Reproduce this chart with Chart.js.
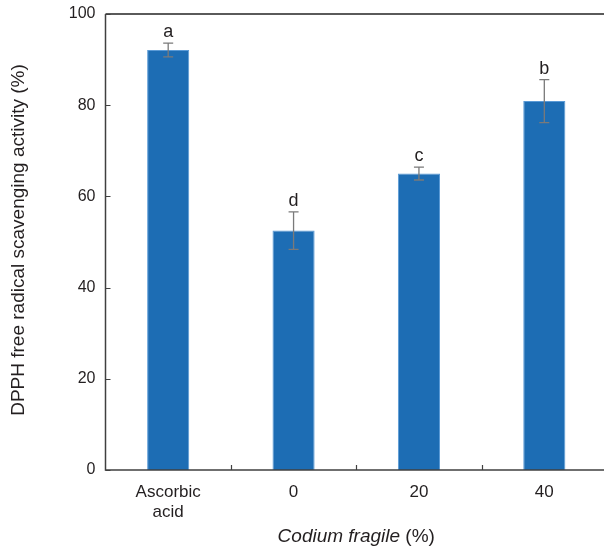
<!DOCTYPE html>
<html>
<head>
<meta charset="utf-8">
<script src="https://cdn.jsdelivr.net/npm/chart.js@4/dist/chart.umd.min.js"></script>
<style>
html,body{margin:0;padding:0;background:#fff;overflow:hidden;width:604px;height:547px;}
#wrap{position:relative;width:607px;height:547px;}
</style>
</head>
<body>
<div id="wrap"><canvas id="c"></canvas></div>
<script>
const categories = [["Ascorbic","acid"], "0", "20", "40"];
const values = [92.1, 52.5, 65.0, 80.9];
const errors = [1.5, 4.1, 1.4, 4.7];
const letters = ["a", "d", "c", "b"];
const yTicks = [0, 20, 40, 60, 80, 100];

const FONT = "'Liberation Sans', Arial, sans-serif";
const TXT = '#231f20';
const AX = '#404040';

const overlay = {
  id: 'overlay',
  afterDatasetsDraw(chart) {
    const ctx = chart.ctx;
    const x = chart.scales.x, y = chart.scales.y;
    const a = chart.chartArea;
    ctx.save();
    // error bars
    ctx.strokeStyle = '#7a7a7a';
    ctx.lineWidth = 1.3;
    values.forEach((v, i) => {
      const px = x.getPixelForValue(i);
      const top = y.getPixelForValue(v + errors[i]);
      const bot = y.getPixelForValue(v - errors[i]);
      ctx.beginPath();
      ctx.moveTo(px, top); ctx.lineTo(px, bot);
      ctx.moveTo(px - 5, top); ctx.lineTo(px + 5, top);
      ctx.moveTo(px - 5, bot); ctx.lineTo(px + 5, bot);
      ctx.stroke();
      ctx.fillStyle = TXT;
      ctx.font = '18px ' + FONT;
      ctx.textAlign = 'center';
      ctx.textBaseline = 'alphabetic';
      ctx.fillText(letters[i], px, top - 6);
    });
    // axes
    ctx.strokeStyle = AX;
    ctx.lineWidth = 1.5;
    ctx.beginPath();
    ctx.moveTo(a.left, a.top); ctx.lineTo(a.left, a.bottom); ctx.lineTo(a.right, a.bottom);
    ctx.stroke();
    ctx.strokeStyle = '#5a5a5a';
    ctx.lineWidth = 2;
    ctx.beginPath();
    ctx.moveTo(a.left, a.top); ctx.lineTo(a.right, a.top);
    ctx.stroke();
    // inward ticks
    ctx.strokeStyle = AX;
    ctx.lineWidth = 1.2;
    ctx.beginPath();
    yTicks.forEach(t => {
      const py = Math.round(y.getPixelForValue(t)) + 0.5;
      ctx.moveTo(a.left, py); ctx.lineTo(a.left + 5, py);
    });
    for (let i = 0; i < categories.length - 1; i++) {
      const px = Math.round((x.getPixelForValue(i) + x.getPixelForValue(i + 1)) / 2) + 0.5;
      ctx.moveTo(px, a.bottom); ctx.lineTo(px, a.bottom - 5);
    }
    ctx.stroke();
    // x title with italic part
    ctx.fillStyle = TXT;
    ctx.textBaseline = 'alphabetic';
    ctx.textAlign = 'left';
    const p1 = 'Codium fragile', p2 = ' (%)';
    ctx.font = 'italic 19px ' + FONT;
    const w1 = ctx.measureText(p1).width;
    ctx.font = '19px ' + FONT;
    const w2 = ctx.measureText(p2).width;
    const cx = (a.left + a.right) / 2;
    const sx = cx - (w1 + w2) / 2;
    const by = 542;
    ctx.font = 'italic 19px ' + FONT;
    ctx.fillText(p1, sx, by);
    ctx.font = '19px ' + FONT;
    ctx.fillText(p2, sx + w1, by);
    // y title
    ctx.save();
    ctx.translate(24, 240);
    ctx.rotate(-Math.PI / 2);
    ctx.textAlign = 'center';
    ctx.textBaseline = 'alphabetic';
    ctx.font = '19px ' + FONT;
    ctx.fillText('DPPH free radical scavenging activity (%)', 0, 0);
    ctx.restore();
    ctx.restore();
  }
};

new Chart(document.getElementById('c'), {
  type: 'bar',
  data: {
    labels: categories,
    datasets: [{
      data: values,
      backgroundColor: '#1d6db4',
      borderColor: '#5a9ad6',
      borderWidth: 1,
      categoryPercentage: 1,
      barPercentage: 0.336
    }]
  },
  options: {
    responsive: true,
    maintainAspectRatio: false,
    animation: false,
    devicePixelRatio: 1,
    layout: { padding: { top: 14, right: 0, left: 0, bottom: 0 } },
    plugins: { legend: { display: false }, tooltip: { enabled: false } },
    scales: {
      x: {
        grid: { display: false, drawTicks: false },
        border: { display: false },
        ticks: { color: TXT, font: { family: FONT, size: 17, lineHeight: 1.2 }, padding: 12, maxRotation: 0 },
        afterFit(s) { s.height = 77; s.paddingLeft = 0; s.paddingRight = 0; }
      },
      y: {
        min: 0, max: 100,
        grid: { display: false, drawTicks: false },
        border: { display: false },
        ticks: { stepSize: 20, color: TXT, font: { family: FONT, size: 16 }, padding: 10 },
        afterFit(s) { s.width = 105.5; s.paddingTop = 0; s.paddingBottom = 0; }
      }
    }
  },
  plugins: [overlay]
});
</script>
</body>
</html>
